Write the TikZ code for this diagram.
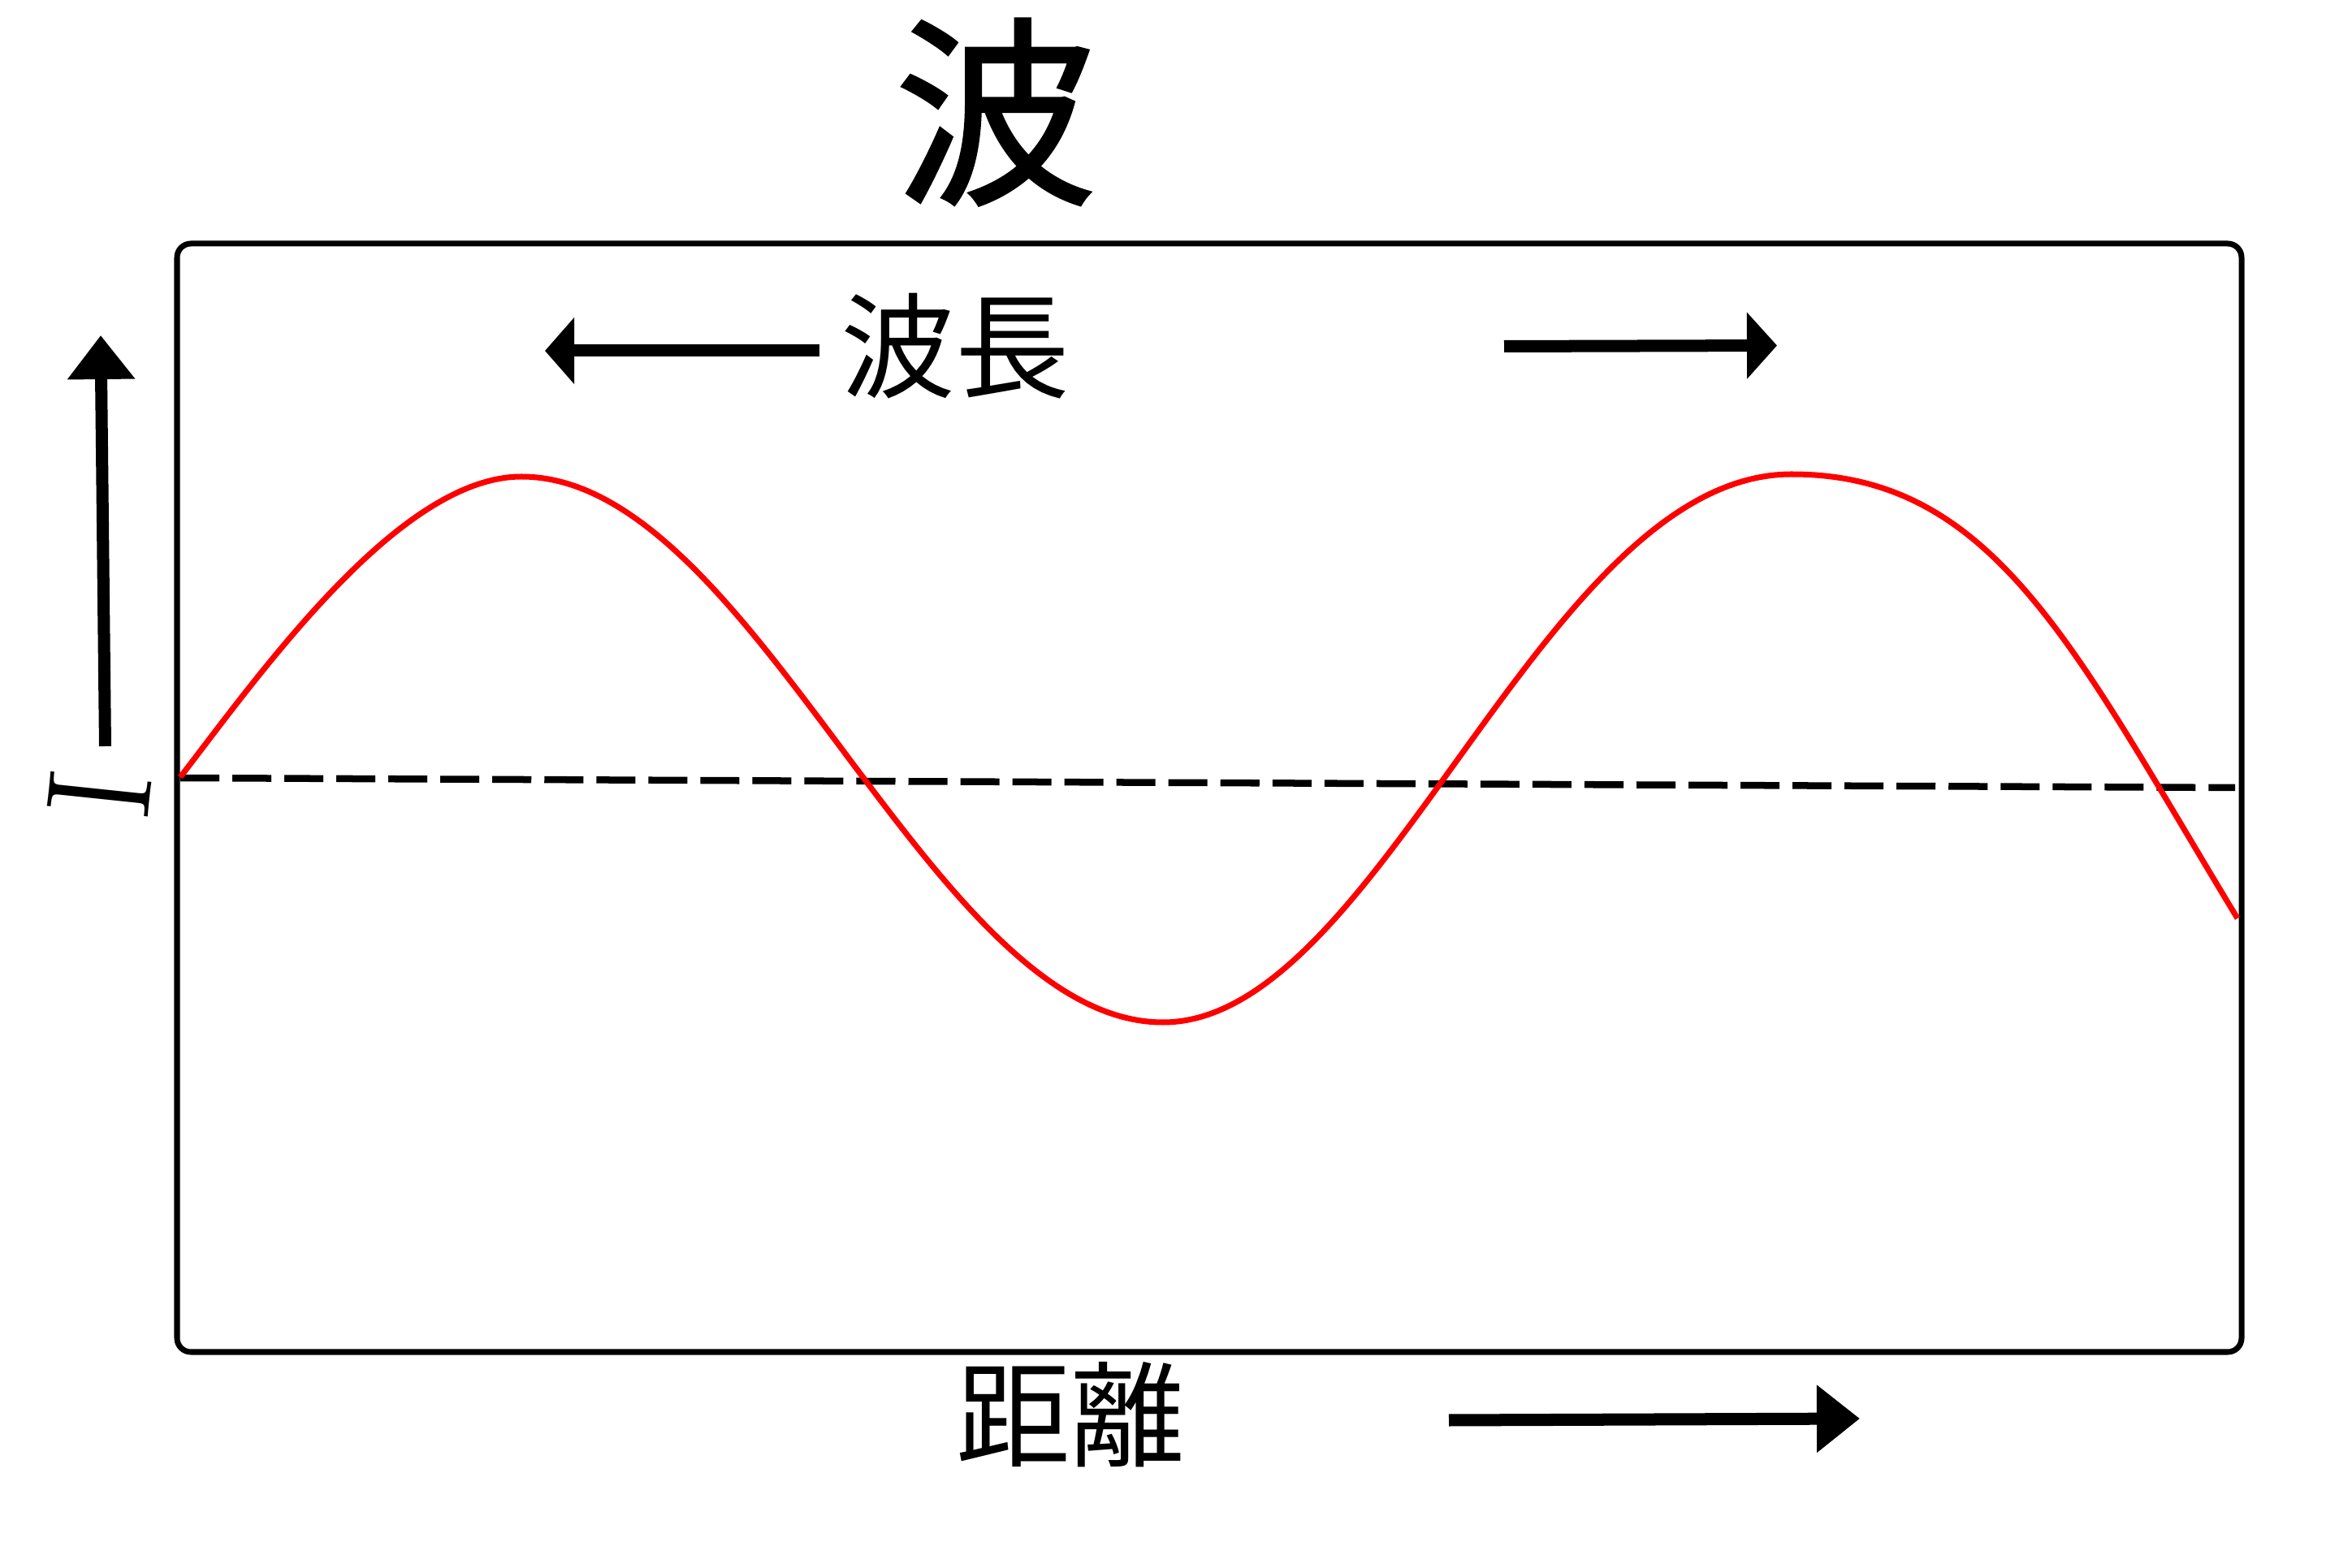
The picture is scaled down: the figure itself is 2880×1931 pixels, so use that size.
\documentclass[tikz,border=0pt]{standalone}
\usepackage{fontspec}
\newfontfamily\cjk{Noto Sans CJK JP}
\newfontfamily\cjkheavy[FakeBold=1.2]{Noto Sans CJK JP}
\usetikzlibrary{arrows.meta}
\begin{document}
\begin{tikzpicture}[x=0.01cm,y=-0.01cm,
  frame/.style={line width=0.07cm, rounded corners=0.17cm},
  bigarrow/.style={line width=0.15cm, -{Triangle[length=#1, width=0.8cm]}},
  midline/.style={line width=0.085cm, dash pattern=on 0.48cm off 0.16cm},
  wave/.style={line width=0.07cm, draw={rgb,255:red,255;green,0;blue,0}, line join=round},
  cjklabel/.style={font=\cjk\fontsize{40}{40}\selectfont, inner sep=0pt},
  titlelabel/.style={font=\cjkheavy\fontsize{71}{71}\selectfont, inner sep=0pt}
]
\useasboundingbox (0,0) rectangle (2880,1931);

% frame
\draw[frame] (218,300) rectangle (2760,1665);

% title and labels
\node[titlelabel] (title) at (1226,138) {波};
\node[cjklabel] (wavelen) at (1176,426) {波長};
\node[cjklabel] (dist) at (1318,1742) {距離};
\node[font=\fontsize{52}{52}\selectfont, rotate=84, inner sep=0pt] (ilabel) at (123,978) {I};

% arrow end points
\coordinate (upS) at (129.5,919);
\coordinate (upT) at (124,413);
\coordinate (wlS) at (1009,432);
\coordinate (wlT) at (671,432);
\coordinate (wrS) at (1852,426.5);
\coordinate (wrT) at (2188,425.5);
\coordinate (dS) at (1784,1749);
\coordinate (dT) at (2290,1747);

\draw[bigarrow=0.54cm] (upS) -- (upT);
\draw[bigarrow=0.36cm] (wlS) -- (wlT);
\draw[bigarrow=0.37cm] (wrS) -- (wrT);
\draw[bigarrow=0.53cm] (dS) -- (dT);

% zero line
\coordinate (zL) at (222,958);
\coordinate (zR) at (2752,970);
\draw[midline] (zL) -- (zR);

% wave
\coordinate (w0) at (222,957);
\coordinate (w1) at (642,587);
\coordinate (w2) at (1432,1259);
\coordinate (w3) at (2206,584);
\coordinate (w4) at (2755,1131);
\draw[wave] (w0) .. controls (322,827) and (492,587) .. (w1)
  .. controls (929,587) and (1145,1259) .. (w2)
  .. controls (1700,1259) and (1900,584) .. (w3)
  .. controls (2456,584) and (2555,801) .. (w4);
\end{tikzpicture}
\end{document}
